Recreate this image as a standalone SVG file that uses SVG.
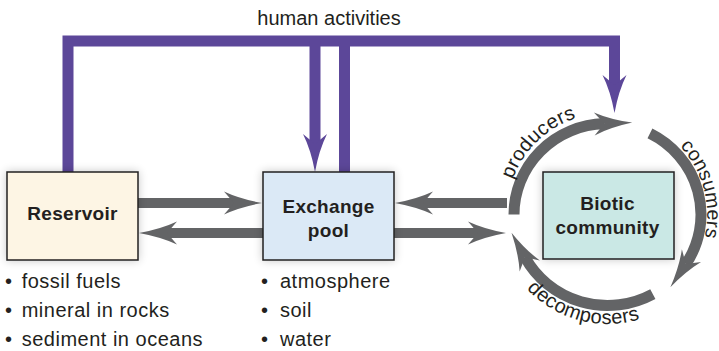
<svg xmlns="http://www.w3.org/2000/svg" width="719" height="351" viewBox="0 0 719 351">
  <style>
    .txt { font-family: "Liberation Sans", Arial, sans-serif; font-size: 20px; fill: #231f20; }
    .item { letter-spacing: 0.5px; }
    .bold { font-weight: bold; font-size: 19px; letter-spacing: 0.3px; }
    .arc-label { letter-spacing: 0.3px; }
    .box { stroke: #231f20; stroke-width: 1.5; }
    .flow { fill: none; stroke: #636466; stroke-width: 10; stroke-linecap: butt; marker-end: url(#headGray); }
    .cycle { fill: none; stroke: #636466; stroke-width: 11; stroke-linecap: butt; marker-end: url(#headGray); }
    .human { fill: none; stroke: #5c4799; stroke-width: 11; stroke-linejoin: miter; stroke-linecap: butt; }
  </style>
  <defs>
    <marker id="headGray" markerUnits="userSpaceOnUse" viewBox="0 -13 40 26" markerWidth="40" markerHeight="26" refX="10" refY="0" orient="auto" overflow="visible">
      <path d="M0,-11.5 Q16,-4 38,0 Q16,4 0,11.5 L10,0 Z" fill="#636466"/>
    </marker>
    <marker id="headPurple" markerUnits="userSpaceOnUse" viewBox="0 -13 40 26" markerWidth="40" markerHeight="26" refX="10" refY="0" orient="auto" overflow="visible">
      <path d="M0,-12 Q16,-4 38,0 Q16,4 0,12 L10,0 Z" fill="#5c4799"/>
    </marker>
    <filter id="shade" x="-20%" y="-20%" width="140%" height="140%">
      <feGaussianBlur in="SourceAlpha" stdDeviation="5"/>
      <feComponentTransfer><feFuncA type="linear" slope="0.22"/></feComponentTransfer>
      <feMerge><feMergeNode/><feMergeNode in="SourceGraphic"/></feMerge>
    </filter>
    <!-- baselines for the cycle labels -->
    <path id="arcProducers" d="M506.56,217.52 A101,101 0 0 1 614.55,113.24"/>
    <path id="arcConsumers" d="M656,127.4 A100,100 0 0 1 693.2,265.5"/>
    <path id="arcDecomposers" d="M512.24,269 A110,110 0 0 0 662.5,309.26"/>
  </defs>

  <rect width="719" height="351" fill="#ffffff"/>

  <g id="connectors">
    <!-- human activities -->
    <path class="human" d="M68,172 V41 H614.5 V85" marker-end="url(#headPurple)"/>
    <path class="human" d="M315,41 V144" marker-end="url(#headPurple)"/>
    <path class="human" d="M344.5,172 V41"/>
    <!-- reservoir / exchange pool -->
    <path class="flow" d="M138,203 H234"/>
    <path class="flow" d="M263,233 H167"/>
    <!-- exchange pool / biotic community -->
    <path class="flow" d="M507,203 H423"/>
    <path class="flow" d="M394,233 H478"/>
    <!-- cycle inside the biotic community -->
    <path class="cycle" d="M514,214.5 A93.5,91 0 0 1 604.24,123.56"/>
    <path class="cycle" d="M649.95,133.42 A93.5,91 0 0 1 685.91,264.06"/>
    <path class="cycle" d="M652.83,294.09 A93.5,91 0 0 1 524.95,257.22"/>
  </g>

  <text class="txt" x="329" y="25" text-anchor="middle">human activities</text>

  <g id="reservoir">
    <rect class="box" x="7" y="172" width="131" height="88" fill="#fdf5e4" filter="url(#shade)"/>
    <text class="txt bold" x="72.5" y="220" text-anchor="middle">Reservoir</text>
    <text class="txt item"><tspan x="5" y="288">•</tspan><tspan x="21.7" y="288">fossil fuels</tspan></text>
    <text class="txt item"><tspan x="5" y="317">•</tspan><tspan x="21.7" y="317">mineral in rocks</tspan></text>
    <text class="txt item"><tspan x="5" y="346">•</tspan><tspan x="21.7" y="346">sediment in oceans</tspan></text>
  </g>

  <g id="exchange-pool">
    <rect class="box" x="263" y="172" width="131" height="88" fill="#dbe9f6" filter="url(#shade)"/>
    <text class="txt bold" x="328.5" y="212.7" text-anchor="middle">Exchange</text>
    <text class="txt bold" x="328.5" y="237" text-anchor="middle">pool</text>
    <text class="txt item"><tspan x="261" y="288">•</tspan><tspan x="280" y="288">atmosphere</tspan></text>
    <text class="txt item"><tspan x="261" y="317">•</tspan><tspan x="280" y="317">soil</tspan></text>
    <text class="txt item"><tspan x="261" y="346">•</tspan><tspan x="280" y="346">water</tspan></text>
  </g>

  <g id="biotic-community">
    <rect class="box" x="543" y="172" width="131" height="87" fill="#cae8e5" filter="url(#shade)"/>
    <text class="txt bold" x="607.5" y="210" text-anchor="middle">Biotic</text>
    <text class="txt bold" x="607.5" y="234" text-anchor="middle">community</text>
  </g>

  <g id="cycle-labels">
    <text class="txt arc-label"><textPath href="#arcProducers" startOffset="50%" text-anchor="middle">producers</textPath></text>
    <text class="txt arc-label" style="font-size:19.5px"><textPath href="#arcConsumers" startOffset="50%" text-anchor="middle">consumers</textPath></text>
    <text class="txt arc-label"><textPath href="#arcDecomposers" startOffset="50%" text-anchor="middle">decomposers</textPath></text>
  </g>
</svg>
